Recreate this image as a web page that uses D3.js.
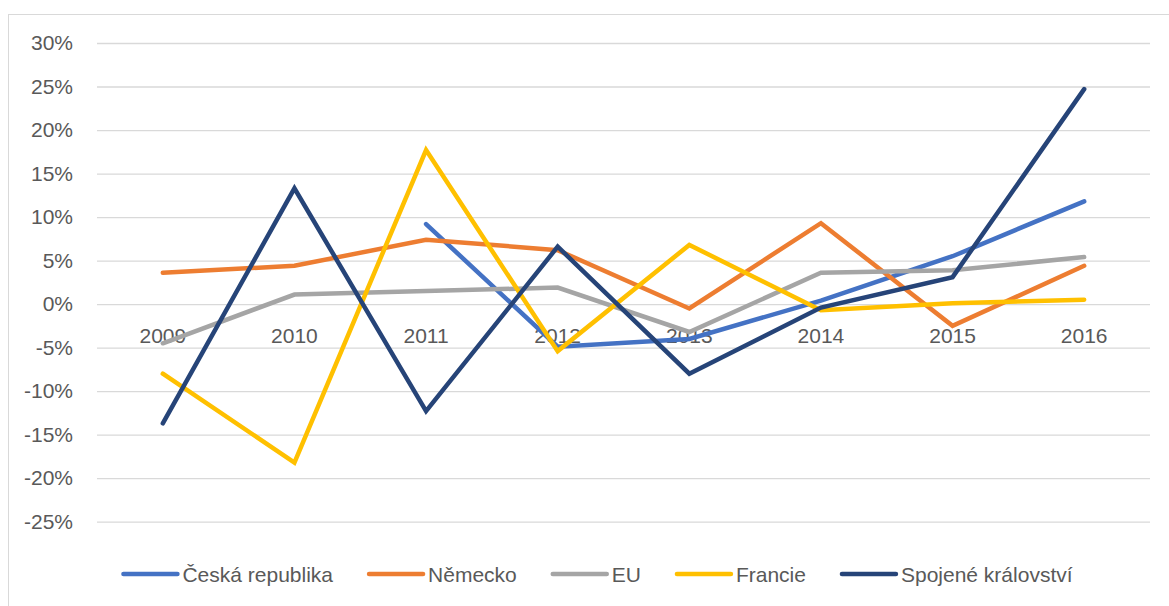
<!DOCTYPE html>
<html>
<head>
<meta charset="utf-8">
<script src="https://cdn.jsdelivr.net/npm/d3@7"></script>
<style>
  body { margin: 0; background: #fff; }
  svg { font-family: 'Liberation Sans', Arial, sans-serif; }
</style>
</head>
<body>
<div id="chart"></div>
<script>
const years = ['2009', '2010', '2011', '2012', '2013', '2014', '2015', '2016'];
const seriesNames = ['Česká republika', 'Německo', 'EU', 'Francie', 'Spojené království'];
const seriesColors = ['#4472C4', '#ED7D31', '#A5A5A5', '#FFC000', '#264478'];
const cesko = [null, null, 9.2, -4.9, -4.0, 0.4, 5.5, 11.8];
const nemecko = [3.6, 4.4, 7.4, 6.2, -0.5, 9.3, -2.5, 4.4];
const eu = [-4.5, 1.1, 1.5, 1.9, -3.2, 3.6, 3.9, 5.4];
const francie = [-8.0, -18.2, 17.7, -5.4, 6.8, -0.7, 0.1, 0.5];
const spojene = [-13.7, 13.3, -12.3, 6.6, -8.0, -0.4, 3.1, 24.7];
const yTicks = [30, 25, 20, 15, 10, 5, 0, -5, -10, -15, -20, -25];

const series = [cesko, nemecko, eu, francie, spojene];

const width = 1169;
const height = 606;
const plot = { left: 97, right: 1150, top: 43, bottom: 521.7 };

const svg = d3.select('#chart')
  .append('svg')
  .attr('width', width)
  .attr('height', height);

// chart frame (cropped at right / bottom)
svg.append('rect')
  .attr('x', 8.5)
  .attr('y', 14.5)
  .attr('width', width)
  .attr('height', height)
  .attr('fill', 'none')
  .attr('stroke', '#d9d9d9')
  .attr('stroke-width', 1);

const x = d3.scaleBand()
  .domain(years)
  .range([plot.left, plot.right]);

const y = d3.scaleLinear()
  .domain([-25, 30])
  .range([plot.bottom, plot.top]);

const yAxis = d3.axisLeft(y)
  .tickValues(yTicks)
  .tickSize(-(plot.right - plot.left))
  .tickPadding(24)
  .tickFormat(d => `${d}%`);

const gy = svg.append('g')
  .attr('class', 'y axis')
  .attr('transform', `translate(${plot.left},0)`)
  .call(yAxis);

gy.select('.domain').remove();
gy.selectAll('.tick line')
  .attr('stroke', '#d9d9d9')
  .attr('stroke-width', 1.3);
gy.selectAll('.tick text')
  .attr('fill', '#595959')
  .attr('font-size', 21)
  .attr('x', -24);

// category labels sit just under the zero line
svg.append('g')
  .attr('class', 'x labels')
  .selectAll('text')
  .data(years)
  .enter()
  .append('text')
  .attr('x', d => x(d) + x.bandwidth() / 2)
  .attr('y', y(0) + 39)
  .attr('text-anchor', 'middle')
  .attr('fill', '#595959')
  .attr('font-size', 21)
  .text(d => d);

const line = d3.line()
  .defined(d => d !== null)
  .x((d, i) => x(years[i]) + x.bandwidth() / 2)
  .y(d => y(d));

svg.append('g')
  .attr('class', 'lines')
  .selectAll('path')
  .data(series)
  .enter()
  .append('path')
  .attr('d', d => line(d))
  .attr('fill', 'none')
  .attr('stroke', (d, i) => seriesColors[i])
  .attr('stroke-width', 4.5)
  .attr('stroke-linecap', 'round')
  .attr('stroke-linejoin', 'miter');

// legend
const legend = svg.append('g').attr('class', 'legend');
const legendY = 574;
const swatch = 54;
const textGap = 5;
const itemGap = 36;

const items = legend.selectAll('g')
  .data(seriesNames)
  .enter()
  .append('g');

items.append('line')
  .attr('x1', 0)
  .attr('x2', swatch)
  .attr('y1', legendY)
  .attr('y2', legendY)
  .attr('stroke', (d, i) => seriesColors[i])
  .attr('stroke-width', 4.5)
  .attr('stroke-linecap', 'round');

items.append('text')
  .attr('x', swatch + textGap)
  .attr('y', legendY + 7.5)
  .attr('fill', '#595959')
  .attr('font-size', 21)
  .text(d => d);

const widths = [];
items.each(function () {
  widths.push(swatch + textGap + this.querySelector('text').getComputedTextLength());
});
const total = d3.sum(widths) + itemGap * (widths.length - 1);
let cursor = 598 - total / 2;
items.attr('transform', (d, i) => {
  const t = `translate(${cursor},0)`;
  cursor += widths[i] + itemGap;
  return t;
});
</script>
</body>
</html>
